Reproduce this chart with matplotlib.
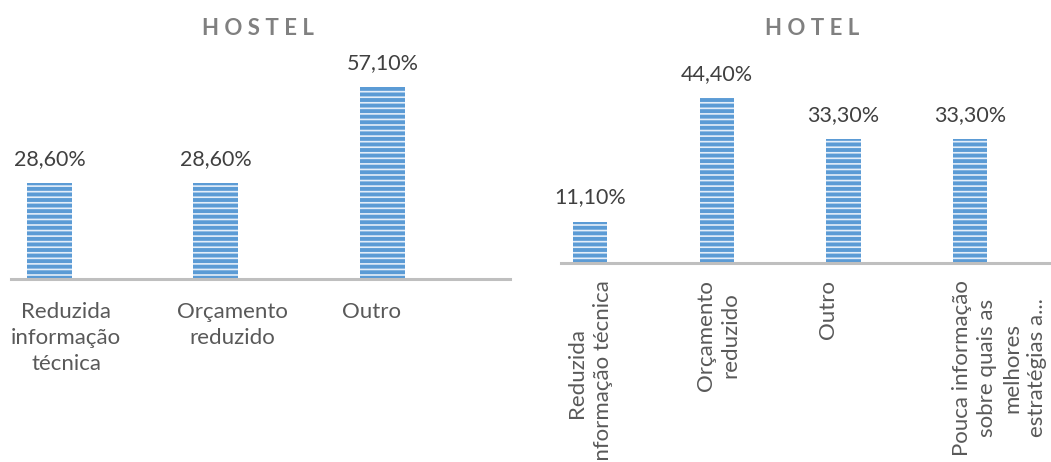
import matplotlib.pyplot as plt

plt.rcParams['font.family'] = ['Lato', 'DejaVu Sans']
plt.rcParams['hatch.linewidth'] = 1.2

# survey answers, percent of respondents
hostel_cats = ["Reduzida\ninformação\ntécnica", "Orçamento\nreduzido", "Outro"]
hostel_vals = [28.6, 28.6, 57.1]

hotel_cats = ["Reduzida\ninformação técnica", "Orçamento\nreduzido", "Outro",
              "Pouca informação\nsobre quais as\nmelhores\nestratégias a..."]
hotel_vals = [11.1, 44.4, 33.3, 33.3]

BLUE = '#5b9bd5'
STRIPE = '#e4eef9'
AXIS = '#bfbfbf'
VALUE_COL = '#404040'
CAT_COL = '#595959'
TITLE_COL = '#808080'

W, H = 1051, 462
fig = plt.figure(figsize=(W / 100, H / 100), dpi=100)


def px_axes(x0, base, width, height):
    # place an axes by pixel position (base = y of the baseline from the top)
    return fig.add_axes([x0 / W, (H - base) / H, width / W, height / H])


def pct(v):
    return f"{v:.2f}%".replace(".", ",")


def draw_panel(ax, cats, vals, ymax, xlim, label_dx, rotate):
    xs = list(range(len(vals)))
    ax.bar(xs, vals, width=0.27, color=BLUE, edgecolor=STRIPE,
           linewidth=0, hatch='---', zorder=2)
    ax.set_ylim(0, ymax)
    ax.set_xlim(*xlim)
    for s in ('top', 'left', 'right'):
        ax.spines[s].set_visible(False)
    ax.spines['bottom'].set_color(AXIS)
    ax.spines['bottom'].set_linewidth(2.2)
    ax.set_xticks([])
    ax.set_yticks([])
    ax.patch.set_alpha(0)

    for x, v in zip(xs, vals):
        ax.annotate(pct(v), (x, v), xytext=(0, 17.5), textcoords='offset points',
                    ha='center', va='center', fontsize=15.5, color=VALUE_COL)

    for x, c, dx in zip(xs, cats, label_dx):
        if rotate:
            ax.annotate(c, (x + dx, 0), xytext=(0, -12), textcoords='offset points',
                        ha='center', va='top', rotation=90, multialignment='center',
                        fontsize=16, color=CAT_COL, linespacing=1.32,
                        annotation_clip=False)
        else:
            ax.annotate(c, (x + dx, 0), xytext=(0, -16.5), textcoords='offset points',
                        ha='center', va='top', multialignment='center',
                        fontsize=16, color=CAT_COL, linespacing=1.38,
                        annotation_clip=False)


ax1 = px_axes(11, 279, 499, 60 * 3.36)
draw_panel(ax1, hostel_cats, hostel_vals, 60, (-0.231, 2.766),
           [0.10, 0.10, -0.066], rotate=False)

ax2 = px_axes(561, 263, 507, 50 * 3.71)
draw_panel(ax2, hotel_cats, hotel_vals, 50, (-0.229, 3.77),
           [0.0, 0.01, -0.12, 0.23], rotate=True)

fig.text(258 / W, 1 - 28.5 / H, "H O S T E L", ha='center', va='center',
         fontsize=16, fontweight='bold', color=TITLE_COL)
fig.text(812 / W, 1 - 28.5 / H, "H O T E L", ha='center', va='center',
         fontsize=16, fontweight='bold', color=TITLE_COL)

fig.savefig('out.png', dpi=100)
